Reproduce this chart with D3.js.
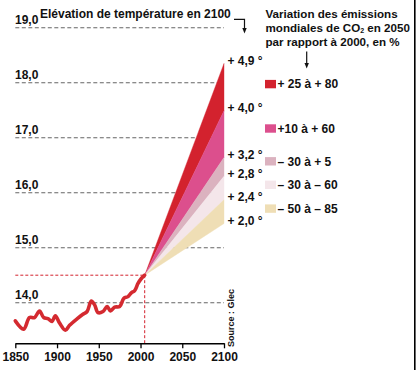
<!DOCTYPE html>
<html>
<head>
<meta charset="utf-8">
<script src="https://cdn.jsdelivr.net/npm/d3@7"></script>
<style>
  html, body { margin: 0; padding: 0; background: #fff; }
  svg { display: block; font-family: "Liberation Sans", Arial, Helvetica, sans-serif; }
</style>
</head>
<body>
<script>
// ---------- DATA ----------
const histYears = [1850, 1860, 1867, 1873, 1879, 1884, 1889, 1894, 1898, 1903, 1910, 1915, 1925, 1931, 1936, 1941, 1945, 1949, 1955, 1960, 1964, 1969, 1975, 1980, 1985, 1989, 1993, 1997, 2001, 2005];
const histTemps = [13.67, 13.52, 13.73, 13.73, 13.85, 13.73, 13.71, 13.66, 13.76, 13.63, 13.50, 13.59, 13.72, 13.79, 13.84, 14.03, 13.96, 13.82, 13.84, 13.93, 13.85, 13.92, 13.93, 14.08, 14.11, 14.18, 14.22, 14.35, 14.44, 14.50];

const fanOriginYear = 2005;
const fanOriginTemp = 14.5;
const fanEndYear = 2100;
// boundaries of the projection fan at 2100 (top -> bottom)
const fanBounds = [18.35, 17.49, 16.64, 16.30, 15.87, 15.44];
const fanLabels = ["+ 4,9 °", "+ 4,0 °", "+ 3,2 °", "+ 2,8 °", "+ 2,4 °", "+ 2,0 °"];

const scenarioLabels = ["+ 25 à + 80", "+10 à + 60", "– 30 à + 5", "– 30 à – 60", "– 50 à – 85"];
const scenarioColors = ["#d3222e", "#dc4f8d", "#dbb2bf", "#f4e6ea", "#efdeb5"];

const yTicks = [14, 15, 16, 17, 18, 19];
const xTicks = [1850, 1900, 1950, 2000, 2050, 2100];

const titleText = "Elévation de température en 2100";
const sourceText = "Source : Glec";

// ---------- LAYOUT ----------
const W = 416, H = 370;
const svg = d3.select("body").append("svg").attr("width", W).attr("height", H);

const x = d3.scaleLinear().domain([1850, 2100]).range([15.3, 224]);
const y = d3.scaleLinear().domain([14, 19]).range([302.7, 27.7]);
const axisY = 343.3;

// gridlines
svg.append("g").selectAll("line").data(yTicks).join("line")
  .attr("x1", x(1850)).attr("x2", x(2100))
  .attr("y1", d => y(d)).attr("y2", d => y(d))
  .attr("stroke", "#666").attr("stroke-width", 1.1)
  .attr("stroke-dasharray", "4,2.5");

svg.append("g").selectAll("text").data(yTicks).join("text")
  .attr("x", 15).attr("y", d => y(d) - 4)
  .attr("font-size", 12).attr("font-weight", "bold").attr("fill", "#111")
  .text(d => d3.format(".1f")(d).replace(".", ","));

// fan
const fanG = svg.append("g");
const lineGen = d3.line().x(d => x(d[0])).y(d => y(d[1]));
for (let i = 0; i < scenarioColors.length; i++) {
  const pts = [[fanOriginYear, fanOriginTemp], [fanEndYear, fanBounds[i]], [fanEndYear, fanBounds[i + 1]]];
  fanG.append("path")
    .attr("d", lineGen(pts) + "Z")
    .attr("fill", scenarioColors[i])
    .attr("stroke", scenarioColors[i]).attr("stroke-width", 0.4);
}

// fan labels
svg.append("g").selectAll("text").data(fanLabels).join("text")
  .attr("x", 227.5).attr("y", (d, i) => y(fanBounds[i]) + 1.5)
  .attr("font-size", 12).attr("font-weight", "bold").attr("fill", "#111")
  .text(d => d);

// red dashed reference lines
svg.append("line")
  .attr("x1", x(1850)).attr("x2", x(fanOriginYear))
  .attr("y1", y(fanOriginTemp)).attr("y2", y(fanOriginTemp))
  .attr("stroke", "#d3222e").attr("stroke-width", 1).attr("stroke-dasharray", "3,2");
svg.append("line")
  .attr("x1", x(fanOriginYear)).attr("x2", x(fanOriginYear))
  .attr("y1", y(fanOriginTemp)).attr("y2", axisY)
  .attr("stroke", "#d3222e").attr("stroke-width", 1).attr("stroke-dasharray", "3,2");

// historical line
const hist = histYears.map((d, i) => [d, histTemps[i]]);
svg.append("path")
  .attr("d", d3.line().x(d => x(d[0])).y(d => y(d[1])).curve(d3.curveCatmullRom)(hist))
  .attr("fill", "none").attr("stroke", "#d42a30").attr("stroke-width", 3.6)
  .attr("stroke-linejoin", "round").attr("stroke-linecap", "round");

// x axis
const xAxis = d3.axisBottom(x).tickValues(xTicks).tickSize(5).tickSizeOuter(0)
  .tickPadding(4).tickFormat(d3.format("d"));
const gx = svg.append("g").attr("transform", `translate(0,${axisY})`).call(xAxis);
gx.select(".domain").attr("stroke", "#000").attr("stroke-width", 1.5);
gx.selectAll(".tick line").attr("stroke", "#000").attr("stroke-width", 1.3);
gx.selectAll(".tick text").attr("font-size", 12).attr("font-weight", "bold")
  .attr("fill", "#111").attr("font-family", "'Liberation Sans', Arial, sans-serif");

// title
svg.append("text").attr("x", 40).attr("y", 18.3)
  .attr("font-size", 12).attr("font-weight", "bold").attr("fill", "#111")
  .text(titleText);
// title arrow
svg.append("path").attr("d", "M234,19.3H244.5V29")
  .attr("fill", "none").attr("stroke", "#111").attr("stroke-width", 1.2);
svg.append("path").attr("d", "M242.3,28L246.7,28L244.5,33.6Z").attr("fill", "#111");

// legend title
const lt = svg.append("text").attr("x", 265.5).attr("font-size", 11.6)
  .attr("font-weight", "bold").attr("fill", "#111");
lt.append("tspan").attr("x", 265.5).attr("y", 18.3).text("Variation des émissions");
lt.append("tspan").attr("x", 265.5).attr("y", 31.5).text("mondiales de CO");
lt.append("tspan").attr("dy", 1.8).attr("font-size", 7).text("2");
lt.append("tspan").attr("dy", -1.8).text(" en 2050");
lt.append("tspan").attr("x", 265.5).attr("y", 45.5).text("par rapport à 2000, en %");
// legend arrow
svg.append("line").attr("x1", 306.7).attr("x2", 306.7).attr("y1", 51.5).attr("y2", 64)
  .attr("stroke", "#111").attr("stroke-width", 1.2);
svg.append("path").attr("d", "M304.5,63L308.9,63L306.7,68.6Z").attr("fill", "#111");

// legend items
const legendRowY = [88.3, 132.7, 165.5, 189, 212.8];
const lg = svg.append("g");
lg.selectAll("rect").data(scenarioColors).join("rect")
  .attr("x", 265).attr("y", (d, i) => legendRowY[i] - 8.4)
  .attr("width", 11).attr("height", 8.4).attr("fill", d => d);
lg.selectAll("text").data(scenarioLabels).join("text")
  .attr("x", 277.5).attr("y", (d, i) => legendRowY[i])
  .attr("font-size", 12).attr("font-weight", "bold").attr("fill", "#111")
  .text(d => d);

// source
svg.append("text")
  .attr("transform", "translate(233.5,347) rotate(-90)")
  .attr("font-size", 9).attr("font-weight", "bold").attr("fill", "#111")
  .text(sourceText);

// right frame line
svg.append("line").attr("x1", 414.8).attr("x2", 414.8).attr("y1", 0).attr("y2", H)
  .attr("stroke", "#000").attr("stroke-width", 1.6);
</script>
</body>
</html>
